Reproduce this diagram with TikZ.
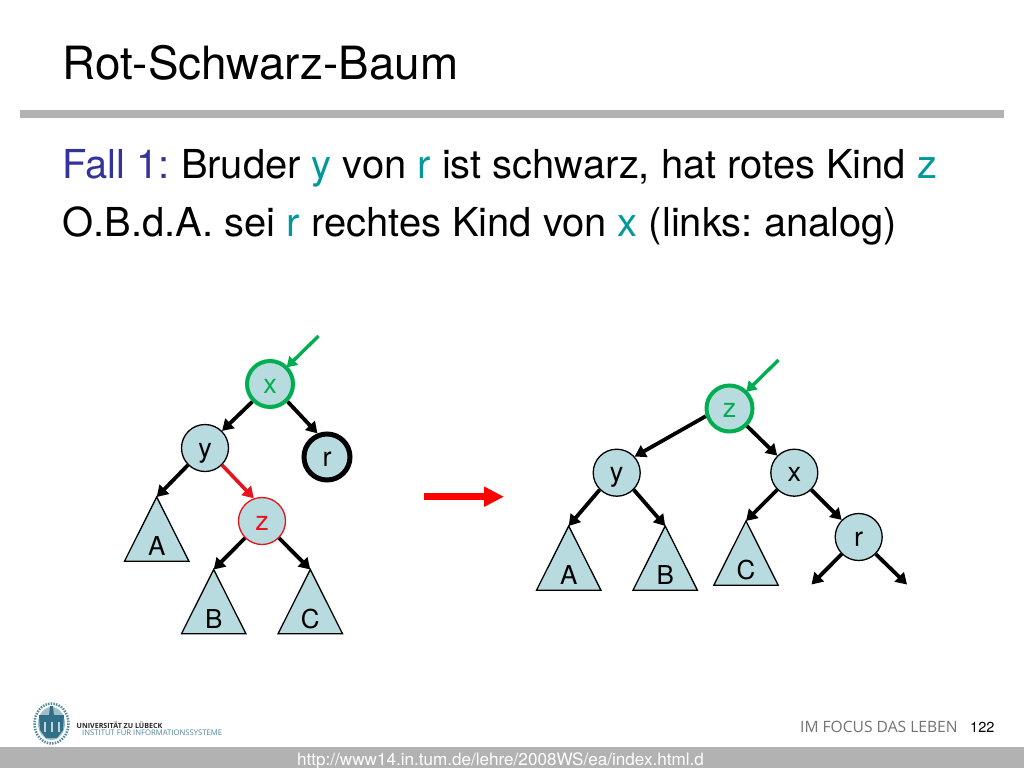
\documentclass[tikz,border=0pt]{standalone}
\usepackage{fontspec}
\setmainfont{TeX Gyre Heros}
\newfontfamily\logofont{Open Sans}
\usetikzlibrary{arrows.meta}
\definecolor{nodefill}{HTML}{B8DBE0}
\definecolor{rulegray}{HTML}{B2B2B2}
\definecolor{titleblue}{HTML}{333399}
\definecolor{accent}{HTML}{009999}
\definecolor{markgreen}{HTML}{00AD50}
\definecolor{markred}{HTML}{E8141C}
\definecolor{sealblue}{HTML}{2F6F88}
\newcommand{\ac}[1]{\textcolor{accent}{#1}}
\newcommand{\tfs}[2]{\fontsize{#1}{#1}\selectfont #2}
\newcommand{\subtree}[4]{%
  \coordinate (#1) at (#2,#3);
  \draw[treeline] (#1) -- ++(-32.2,64.2) -- ++(64.4,0) -- cycle;
  \node[treelabel] (#1label) at (#2,#3+58.5) {#4};}
\tikzset{
  x=1pt,y=-1pt,
  treeline/.style={fill=nodefill,draw=black,line width=1.3pt,line join=miter},
  treelabel/.style={font=\fontsize{26}{26}\selectfont,anchor=base,inner sep=0pt},
  treenode/.style={circle,fill=nodefill,draw=black,line width=1.3pt,minimum size=47pt,inner sep=0pt,font=\fontsize{27}{27}\selectfont,text height=20pt,text depth=2pt},
  greennode/.style={treenode,draw=markgreen,line width=4pt,text=markgreen,minimum size=46pt},
  rednode/.style={treenode,draw=markred,text=markred},
  heavynode/.style={treenode,line width=5pt,minimum size=46pt},
  edge/.style={line width=3.8pt,-{Triangle[length=11pt,width=13pt]}},
  rededge/.style={line width=3.6pt,color=markred,-{Triangle[length=11pt,width=13pt]}},
  greenedge/.style={line width=3.4pt,color=markgreen,shorten >=-1.5pt,-{Triangle[length=10pt,width=12pt]}},
  bigarrow/.style={line width=6.5pt,color=red,-{Triangle[length=20pt,width=19pt]}},
  textline/.style={anchor=base west,inner sep=0pt},
}
\begin{document}
\begin{tikzpicture}
\frenchspacing
\useasboundingbox (0,0) rectangle (1024,768);
\fill[white] (0,0) rectangle (1024,768);
% header
\node[textline] (title) at (62.2,79) {\tfs{45.8}{Rot-Schwarz-Baum}};
\fill[rulegray] (20,110) rectangle (1004,118);
\node[textline] (line1) at (62.5,178) {\tfs{39.9}{\textcolor{titleblue}{Fall 1:} Bruder \ac{y} von \ac{r} ist schwarz, hat rotes Kind \ac{z}}};
\node[textline] (line2) at (62.5,236) {\tfs{39.9}{O.B.d.A. sei \ac{r} rechtes Kind von \ac{x} (links: analog)}};
% left tree
\subtree{lA}{156.7}{497}{A}
\subtree{lB}{213.7}{569.5}{B}
\subtree{lC}{310.3}{569.5}{C}
\node[greennode] (lx) at (270,384) {x};
\node[treenode] (ly) at (205,448) {y};
\node[heavynode] (lr) at (327,457) {r};
\node[rednode] (lz) at (262,521) {z};
\coordinate (lptr) at (318.5,336);
\draw[greenedge] (lptr) -- (lx.45);
\draw[edge] (lx.225) -- (ly.45);
\draw[edge] (lx.-45) -- (lr.112);
\draw[edge] (ly.225) -- (lA);
\draw[rededge] (ly.-45) -- (lz.110);
\draw[edge] (lz.225) -- (lB);
\draw[edge] (lz.-45) -- (lC);
% transition arrow
\coordinate (ta) at (423.5,496.7);
\coordinate (tb) at (504,496.7);
\draw[bigarrow] (ta) -- (tb);
% right tree
\subtree{rA}{568.7}{526}{A}
\subtree{rB}{665.2}{526}{B}
\subtree{rC}{746}{521}{C}
\node[greennode] (rz) at (729.5,408.5) {z};
\node[treenode] (ry) at (616.7,472.7) {y};
\node[treenode] (rx) at (794.3,472.7) {x};
\node[treenode] (rr) at (858.7,537) {r};
\coordinate (rptr) at (778.5,360);
\coordinate (rl) at (811.5,584.5);
\coordinate (rm) at (907,584.5);
\draw[greenedge] (rptr) -- (rz.45);
\draw[edge] (rz.198) -- (ry.42);
\draw[edge] (rz.-45) -- (rx.135);
\draw[edge] (ry.225) -- (rA);
\draw[edge] (ry.-45) -- (rB);
\draw[edge] (rx.225) -- (rC);
\draw[edge] (rx.-45) -- (rr.135);
\draw[edge] (rr.225) -- (rl);
\draw[edge] (rr.-45) -- (rm);
% footer
\fill[rulegray] (0,747) rectangle (1024,768);
\node[textline,text=white] (url) at (297,765) {\tfs{17.1}{http://www14.in.tum.de/lehre/2008WS/ea/index.html.d}};
\node[textline] (page) at (970,732) {\tfs{14.5}{122}};
\node[textline,text=black!55] (motto) at (800,732.5) {\logofont\tfs{15.6}{IM FOCUS DAS LEBEN}};
% seal
\draw[sealblue!80,line width=2.5pt,dash pattern=on 1.5pt off 1.2pt] (51.5,723.5) ellipse (17 and 20);
\fill[sealblue!45] (51.5,723.5) ellipse (13.5 and 16.5);
\fill[sealblue] (39,715) -- (64,715) -- (63,730) -- (57,738) -- (46,738) -- (40,730) -- cycle;
\fill[sealblue] (50,706) -- (53,706) -- (54,716) -- (49,716) -- cycle;
\fill[white!70!sealblue] (44,722) rectangle (45.5,732);
\fill[white!70!sealblue] (51,722) rectangle (52.5,732);
\fill[white!70!sealblue] (58,722) rectangle (59.5,732);
\node[textline,text=black!85] (uni) at (76.5,728) {\logofont\tfs{7.1}{\bfseries UNIVERSITÄT ZU LÜBECK}};
\node[textline,text=sealblue!85] (inst) at (82,735) {\logofont\tfs{7.7}{INSTITUT FÜR INFORMATIONSSYSTEME}};
\end{tikzpicture}
\end{document}
